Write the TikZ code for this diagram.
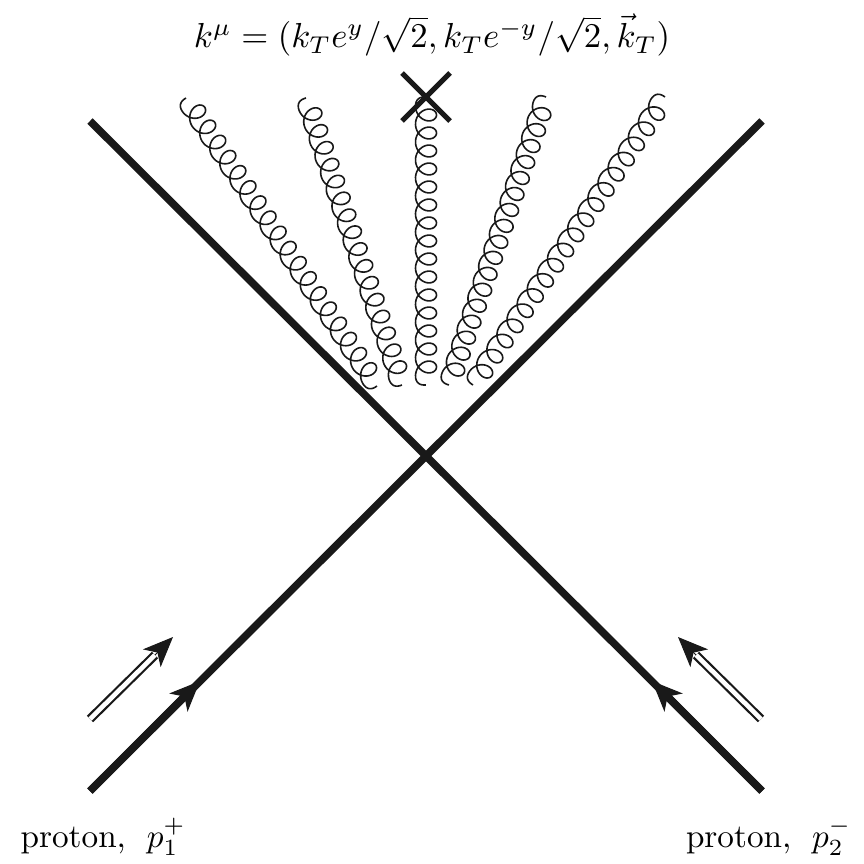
\documentclass[tikz,border=0pt]{standalone}
\usetikzlibrary{arrows.meta}
\tikzset{
  proton/.style={line width=7.5pt,black!90},
  protontip/.style={line width=7.5pt,black!90,-{Stealth[length=30pt,width=25pt,inset=8pt]}},
  momentum/.style={draw=black!90,line width=2.2pt,double=white,double distance=4.6pt},
  momentumtip/.style={black!90,line width=1pt,-{Stealth[length=30pt,width=25pt,inset=8pt]}},
  gluon/.style={black!90,line width=1.6pt,line join=round},
  cross/.style={black!90,line width=5pt},
  label/.style={inner sep=0pt,anchor=base,scale=3.47}
}
% coil with loops on one side: from, to, number of loops
\newcommand{\gluonline}[3]{%
  \pgfpointdiff{\pgfpointanchor{#1}{center}}{\pgfpointanchor{#2}{center}}%
  \pgfgetlastxy{\gx}{\gy}%
  \pgfmathsetmacro\gL{veclen(\gx,\gy)}%
  \pgfmathsetmacro\gAng{atan2(\gy,\gx)}%
  \pgfmathsetmacro\gP{(\gL-9)/(#3+0.5)}%
  \pgfmathsetmacro\gEnd{1.5*pi+2*pi*#3}%
  \pgfmathsetmacro\gStart{0.5*pi}%
  \pgfmathsetmacro\gMid{(\gEnd+\gStart)/2}%
  \pgfmathsetmacro\gHalf{(\gEnd-\gStart)/2-0.5*pi}%
  \pgfmathsetmacro\gN{int(30*(#3+1))}%
  \begin{scope}[shift={(#1)},rotate=\gAng,x=1pt,y=1pt]
    \draw[gluon] plot[variable=\t,samples=\gN,domain=\gStart:\gEnd]
      ({\gP*(\t-\gStart)/(2*pi)+4.5-10*sin(\t r)*(1-0.55*max(0,(abs(\t-\gMid)-\gHalf)/(0.5*pi)))},
       {10.5*cos(\t r)});
  \end{scope}}
\begin{document}
\begin{tikzpicture}[x=1pt,y=-1pt]
\useasboundingbox (0,0) rectangle (863,864);
\coordinate (a1) at (90,791); \coordinate (b1) at (762,121);
\coordinate (a2) at (762,791); \coordinate (b2) at (90,121);
\coordinate (t1) at (200,681); \coordinate (t2) at (652,681);
\draw[proton] (a1) -- (b1);
\draw[proton] (a2) -- (b2);
\draw[protontip] (a1) -- (t1);
\draw[protontip] (a2) -- (t2);
\coordinate (m1a) at (90,719); \coordinate (m1b) at (173,637);
\coordinate (m2a) at (761,719); \coordinate (m2b) at (678,637);
\coordinate (m1c) at (155,655); \coordinate (m2c) at (696,655);
\draw[momentum] (m1a) -- (m1c);
\draw[momentum] (m2a) -- (m2c);
\draw[momentumtip] (m1c) -- (m1b);
\draw[momentumtip] (m2c) -- (m2b);
\coordinate (g1a) at (186,98); \coordinate (g1b) at (377,386);
\coordinate (g2a) at (306,98); \coordinate (g2b) at (402,385);
\coordinate (g3a) at (426,97); \coordinate (g3b) at (426,385);
\coordinate (g4a) at (546,97); \coordinate (g4b) at (449,385);
\coordinate (g5a) at (665,97); \coordinate (g5b) at (473,385);
\gluonline{g1a}{g1b}{18}
\gluonline{g2a}{g2b}{16}
\gluonline{g3a}{g3b}{15}
\gluonline{g4a}{g4b}{17}
\gluonline{g5a}{g5b}{18}
\coordinate (x1) at (402,73); \coordinate (x2) at (450,121);
\coordinate (x3) at (450,73); \coordinate (x4) at (402,121);
\draw[cross] (x1) -- (x2);
\draw[cross] (x3) -- (x4);
\node[label] (formula) at (432,48) {$k^\mu=(k_Te^y/\sqrt{2},k_Te^{-y}/\sqrt{2},\vec{k}_T)$};
\node[label,anchor=base west,scale=0.957] (p1) at (20,847) {proton,\hspace{6.3pt}$p_1^+$};
\node[label,anchor=base east,scale=0.957] (p2) at (852,847) {proton,\hspace{6.3pt}$p_2^-$};
\end{tikzpicture}
\end{document}
